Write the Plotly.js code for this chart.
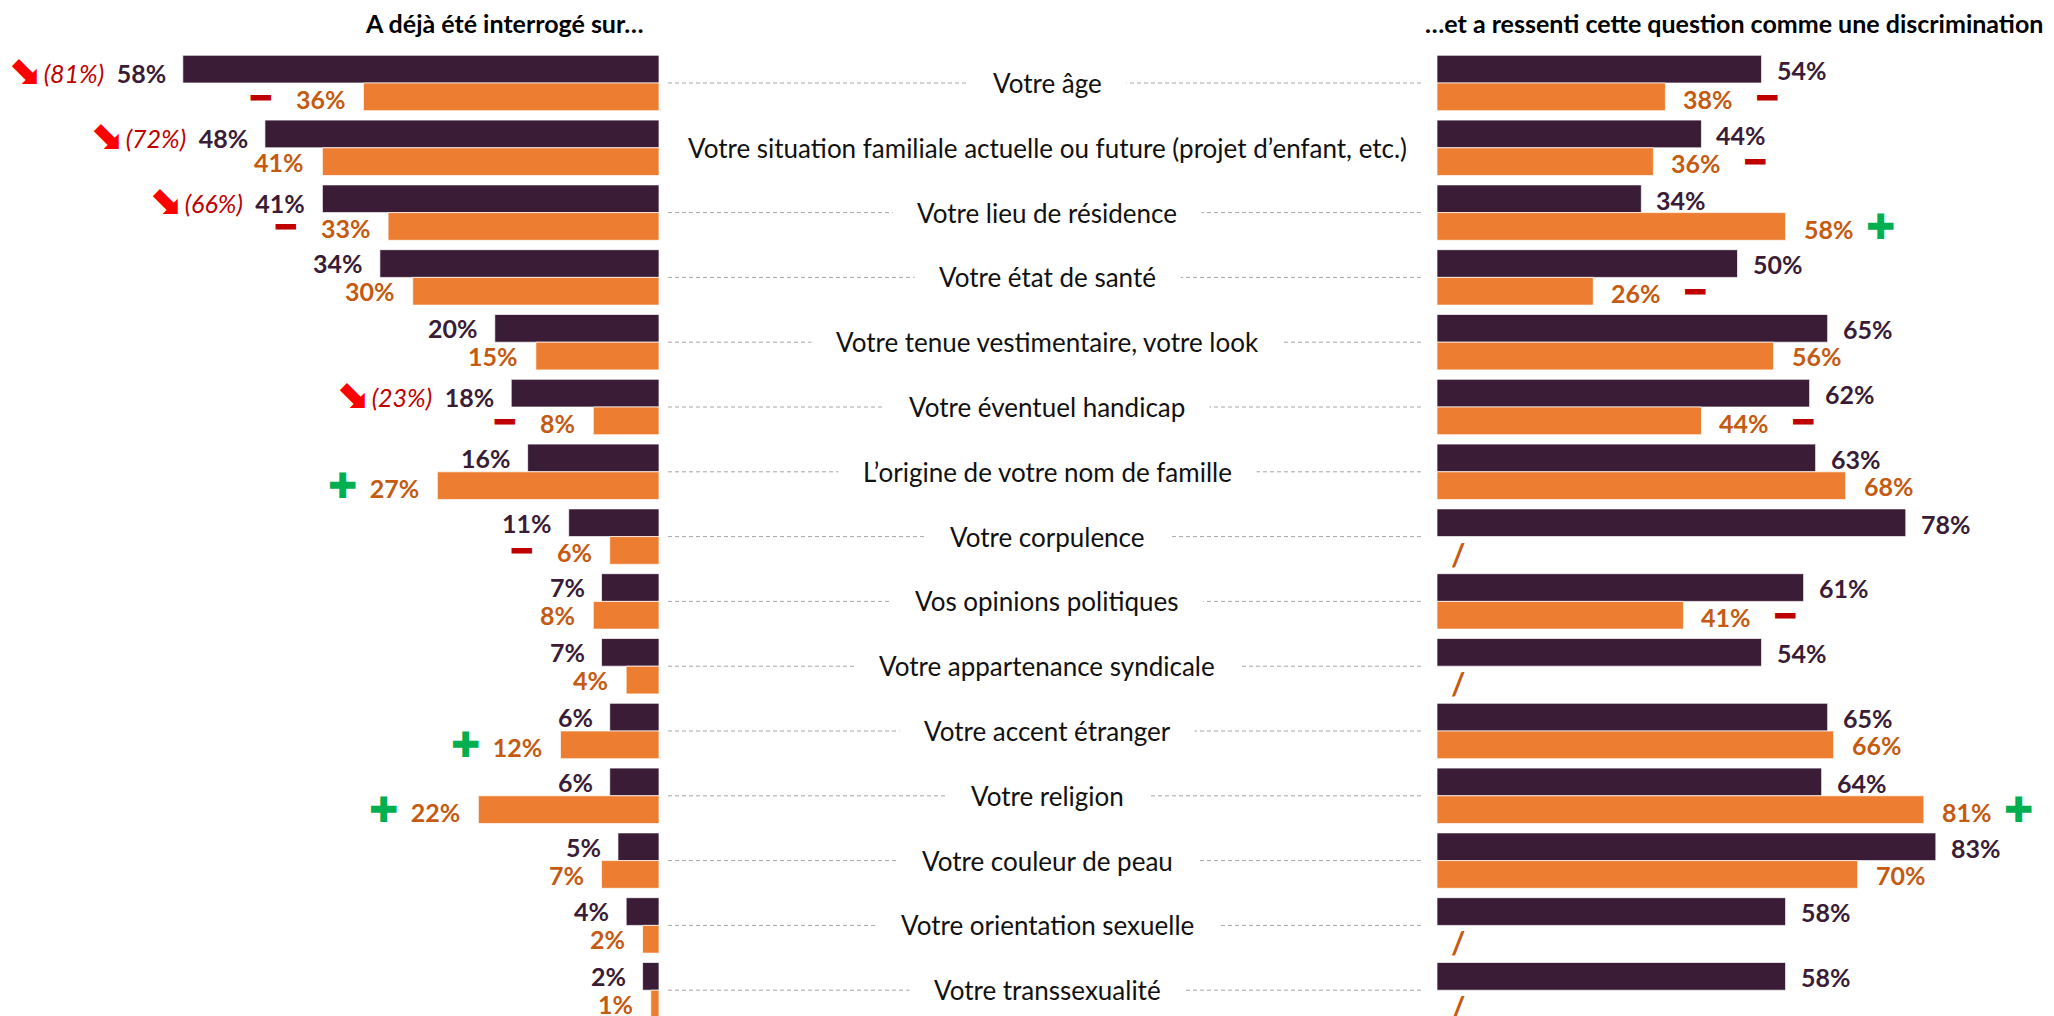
<!DOCTYPE html>
<html>
<head>
<meta charset="utf-8">
<script src="https://cdn.plot.ly/plotly-3.0.1.min.js"></script>
<style>html,body{margin:0;padding:0;background:#fff;}#chart{width:2054px;height:1016px;}</style>
</head>
<body>
<div id="chart"></div>
<script>
// ---------- DATA ----------
const categories = [
  "Votre âge",
  "Votre situation familiale actuelle ou future (projet d’enfant, etc.)",
  "Votre lieu de résidence",
  "Votre état de santé",
  "Votre tenue vestimentaire, votre look",
  "Votre éventuel handicap",
  "L’origine de votre nom de famille",
  "Votre corpulence",
  "Vos opinions politiques",
  "Votre appartenance syndicale",
  "Votre accent étranger",
  "Votre religion",
  "Votre couleur de peau",
  "Votre orientation sexuelle",
  "Votre transsexualité"
];
const askedDark   = [58, 48, 41, 34, 20, 18, 16, 11, 7, 7, 6, 6, 5, 4, 2];
const askedOrange = [36, 41, 33, 30, 15, 8, 27, 6, 8, 4, 12, 22, 7, 2, 1];
const feltDark    = [54, 44, 34, 50, 65, 62, 63, 78, 61, 54, 65, 64, 83, 58, 58];
const feltOrange  = [38, 36, 58, 26, 56, 44, 68, null, 41, null, 66, 81, 70, null, null];
const askedPrevious = [81, 72, 66, null, null, 23, null, null, null, null, null, null, null, null, null];
const askedOrangeTrend = ["-", "", "-", "", "", "-", "+", "-", "", "", "+", "+", "", "", ""];
const feltOrangeTrend  = ["-", "-", "+", "-", "", "-", "", "", "-", "", "", "+", "", "", ""];
const titleLeft  = "A déjà été interrogé sur…";
const titleRight = "…et a ressenti cette question comme une discrimination";

// ---------- STYLE / GEOMETRY ----------
const W = 2054, H = 1016;
const DARK = "#3a1c37", ORANGE = "#ed7d31", ORANGE_TXT = "#c55a11";
const RED = "#c00000", GREEN = "#00b050", ARROW = "#ff0000";
const FONT = "Lato, 'Open Sans', sans-serif";
const rowTop = 83, pitch = 64.8, barH = 27.7 / pitch;
const leftEdge = 659, leftScale = 8.21;
const rightStart = 1437, rightScale = 6.01;
const VAL_SIZE = 25;

const MINUS = "<span style=\"font-family:'DejaVu Sans';font-size:33px;color:" + RED + "\">━</span>";
const PLUS  = "<span style=\"font-family:'DejaVu Sans';font-size:35px;color:" + GREEN + "\">✚</span>";
const SP = "\u2002";

const barLine = {color:"rgba(255,255,255,0.7)", width:1};
const traces = [
  {type:"bar", orientation:"h", x:askedDark, y:categories, xaxis:"x", yaxis:"y",
   offset:-barH, width:barH, marker:{color:DARK, line:barLine}, hoverinfo:"skip"},
  {type:"bar", orientation:"h", x:askedOrange, y:categories, xaxis:"x", yaxis:"y",
   offset:0, width:barH, marker:{color:ORANGE, line:barLine}, hoverinfo:"skip"},
  {type:"bar", orientation:"h", x:feltDark, y:categories, xaxis:"x2", yaxis:"y",
   offset:-barH, width:barH, marker:{color:DARK, line:barLine}, hoverinfo:"skip"},
  {type:"bar", orientation:"h", x:feltOrange, y:categories, xaxis:"x2", yaxis:"y",
   offset:0, width:barH, marker:{color:ORANGE, line:barLine}, hoverinfo:"skip"}
];

const annotations = [];
const shapes = [];

annotations.push({xref:"paper", yref:"paper", x:646/W, y:1-23/H, xanchor:"right", yanchor:"middle",
  text:titleLeft, showarrow:false, font:{family:FONT, size:25, weight:700, color:"#000"}});
annotations.push({xref:"paper", yref:"paper", x:2045/W, y:1-23/H, xanchor:"right", yanchor:"middle",
  text:titleRight, showarrow:false, font:{family:FONT, size:25, weight:700, color:"#000"}});

categories.forEach((cat, i) => {
  // dashed guide line
  shapes.push({type:"line", xref:"paper", yref:"y", x0:668/W, x1:1421/W, y0:i, y1:i,
    line:{color:"#a6a6a6", width:1, dash:"4px,3px"}, layer:"below"});
  // centre label
  annotations.push({xref:"paper", yref:"y", x:1047/W, y:i, xanchor:"center", yanchor:"middle",
    text:"\u2002" + cat + "\u2002", showarrow:false, bgcolor:"#ffffff", borderpad:11,
    font:{family:FONT, size:26, color:"#111"}});

  // left dark label
  let t = askedDark[i] + "%";
  if (askedPrevious[i] != null) {
    t = "<span style=\"font-family:'DejaVu Sans';font-size:40px;color:" + ARROW + "\">⬊</span>\u2009" +
        "<span style=\"font-style:italic;font-weight:normal;color:" + RED + "\">(" + askedPrevious[i] + "%)</span>" + SP + t;
  }
  annotations.push({xref:"x", yref:"y", x:askedDark[i], y:i, xanchor:"right", yanchor:"middle",
    xshift:-15, yshift:14, text:t, showarrow:false, font:{family:FONT, size:VAL_SIZE, weight:700, color:DARK}});

  // left orange label
  let to = askedOrange[i] + "%";
  if (askedOrangeTrend[i] === "-") to = MINUS + SP + SP + to;
  if (askedOrangeTrend[i] === "+") to = PLUS + SP + to;
  annotations.push({xref:"x", yref:"y", x:askedOrange[i], y:i, xanchor:"right", yanchor:"middle",
    xshift:-16, yshift:-14, text:to, showarrow:false, font:{family:FONT, size:VAL_SIZE, weight:700, color:ORANGE_TXT}});

  // right dark label
  annotations.push({xref:"x2", yref:"y", x:feltDark[i], y:i, xanchor:"left", yanchor:"middle",
    xshift:13, yshift:13, text:feltDark[i] + "%", showarrow:false, font:{family:FONT, size:VAL_SIZE, weight:700, color:DARK}});

  // right orange label or slash
  if (feltOrange[i] != null) {
    let tr = feltOrange[i] + "%";
    if (feltOrangeTrend[i] === "-") tr = tr + SP + SP + MINUS;
    if (feltOrangeTrend[i] === "+") tr = tr + SP + PLUS;
    annotations.push({xref:"x2", yref:"y", x:feltOrange[i], y:i, xanchor:"left", yanchor:"middle",
      xshift:16, yshift:-14, text:tr, showarrow:false, font:{family:FONT, size:VAL_SIZE, weight:700, color:ORANGE_TXT}});
  } else {
    annotations.push({xref:"x2", yref:"y", x:0, y:i, xanchor:"left", yanchor:"middle",
      xshift:12, yshift:-17, text:"/", showarrow:false, font:{family:FONT, size:31, weight:700, color:ORANGE_TXT}});
  }
});

const layout = {
  width:W, height:H,
  margin:{l:0, r:0, t:0, b:0, pad:0},
  paper_bgcolor:"#ffffff", plot_bgcolor:"#ffffff",
  showlegend:false,
  barmode:"overlay",
  xaxis:{domain:[0, leftEdge/W], range:[leftEdge/leftScale, 0], visible:false, fixedrange:true},
  xaxis2:{domain:[rightStart/W, 1], range:[0, (W-rightStart)/rightScale], visible:false, anchor:"y", fixedrange:true},
  yaxis:{type:"category", categoryorder:"array", categoryarray:categories,
         range:[(H-rowTop)/pitch, -rowTop/pitch], visible:false, fixedrange:true},
  annotations:annotations,
  shapes:shapes,
  font:{family:FONT}
};

Plotly.newPlot("chart", traces, layout, {staticPlot:true, displayModeBar:false});
</script>
</body>
</html>
